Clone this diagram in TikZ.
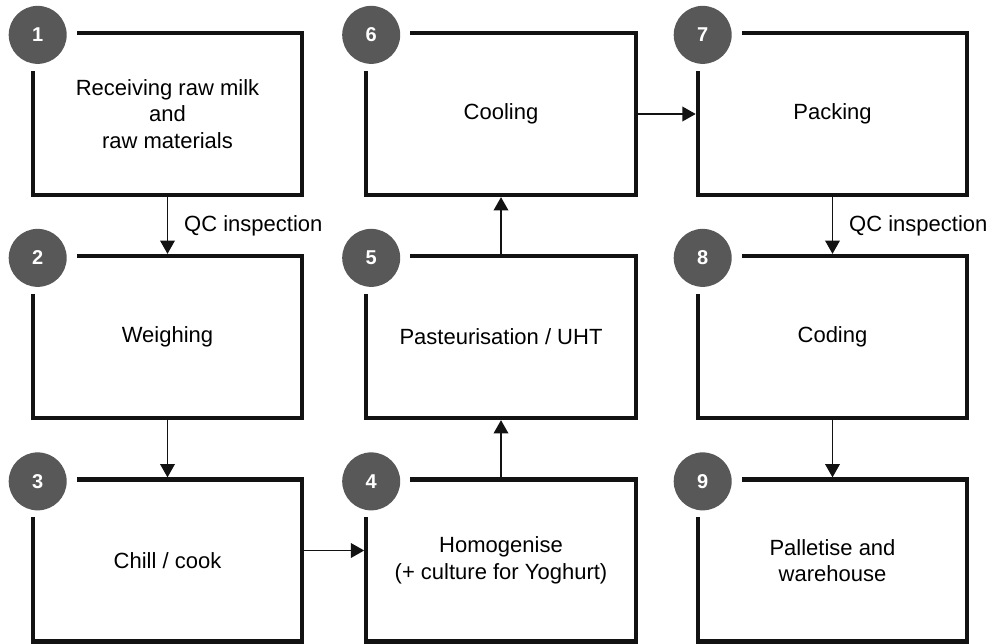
\documentclass[tikz,border=0pt]{standalone}
\usepackage{fontspec}
\setmainfont{Liberation Sans}
\usetikzlibrary{arrows.meta,calc}

\definecolor{ink}{RGB}{18,18,18}
\definecolor{badgegrey}{RGB}{88,88,88}

\tikzset{
  stepbox/.style={draw=ink, line width=3.2pt, minimum width=202pt, minimum height=121.5pt,
    inner sep=0pt, align=center, font=\fontsize{16.5}{20}\selectfont},
  badge/.style={circle, fill=badgegrey, minimum size=43.5pt, inner sep=0pt,
    text=white, font=\fontsize{15}{15}\selectfont\bfseries},
  flow/.style={draw=ink, line width=1.1pt, -{Triangle[length=10pt,width=11pt]}},
  qcnote/.style={anchor=west, inner sep=0pt, xshift=12pt, font=\fontsize{16.5}{20}\selectfont},
}

\begin{document}
% one unit = one pixel of a 996 x 643 canvas, y pointing down
\begin{tikzpicture}[x=0.75pt, y=-0.75pt]
  \useasboundingbox (0,0) rectangle (996,643);

  % process steps
  \node[stepbox] (b1) at (167.5,114)   {Receiving raw milk\\and\\raw materials};
  \node[stepbox] (b2) at (167.5,337)   {Weighing};
  \node[stepbox] (b3) at (167.5,560.5) {Chill / cook};
  \node[stepbox] (b4) at (501,560.5)   {Homogenise\\(+ culture for Yoghurt)};
  \node[stepbox] (b5) at (501,337)     {Pasteurisation / UHT};
  \node[stepbox] (b6) at (501,114)     {Cooling};
  \node[stepbox] (b7) at (832.5,114)   {Packing};
  \node[stepbox] (b8) at (832.5,337)   {Coding};
  \node[stepbox] (b9) at (832.5,560.5) {Palletise and\\warehouse};

  % numbered badges sitting on a white patch over each top-left corner
  \foreach \k in {1,...,9}{
    \fill[white] ($(b\k.north west)+(-34,-34)$) rectangle ($(b\k.north west)+(46,40)$);
    \node[badge] (n\k) at ($(b\k.north west)+(7,4)$) {\k};
  }

  % flow between steps
  \draw[flow] (b1) -- node[qcnote] {QC inspection} (b2);
  \draw[flow] (b2) -- (b3);
  \draw[flow] ($(b3.east)+(0,-10)$) -- ($(b4.west)+(0,-10)$);
  \draw[flow] (b4) -- (b5);
  \draw[flow] (b5) -- (b6);
  \draw[flow] (b6) -- (b7);
  \draw[flow] (b7) -- node[qcnote] {QC inspection} (b8);
  \draw[flow] (b8) -- (b9);
\end{tikzpicture}
\end{document}
